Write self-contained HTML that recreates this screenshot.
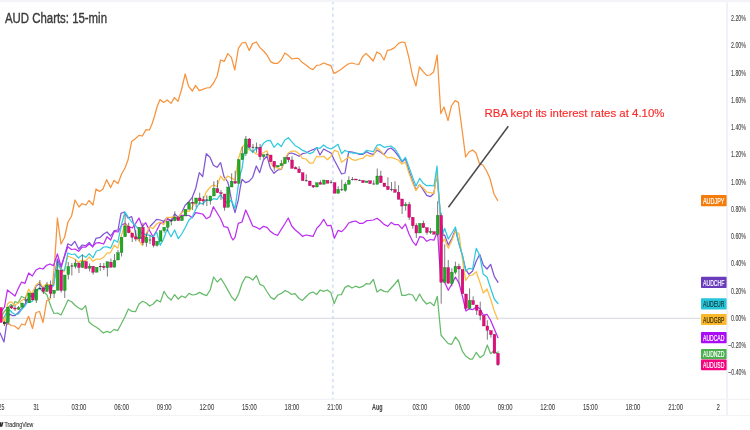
<!DOCTYPE html>
<html><head><meta charset="utf-8"><title>AUD Charts</title>
<style>
html,body{margin:0;padding:0;background:#fff;}
body{width:750px;height:430px;overflow:hidden;font-family:"Liberation Sans",sans-serif;}
svg{display:block;filter:blur(0.35px);}
text{font-family:"Liberation Sans",sans-serif;}
.ax{font-size:8.3px;fill:#444;stroke:#444;stroke-width:0.1px;}
.lb{font-size:8.8px;stroke-width:0.2px;}
</style></head><body>
<svg width="750" height="430" viewBox="0 0 750 430">
<rect x="0" y="0" width="750" height="430" fill="#ffffff"/>
<rect x="0" y="0" width="750" height="2.2" fill="#f2f4f7"/>

<line x1="727" y1="2" x2="727" y2="415.5" stroke="#eceff4" stroke-width="1.6"/>
<line x1="0" y1="399.4" x2="750" y2="399.4" stroke="#f1f3f6" stroke-width="1.2"/>
<line x1="0" y1="415.5" x2="750" y2="415.5" stroke="#f1f3f6" stroke-width="1.2"/>
<line x1="0" y1="318.2" x2="700.5" y2="318.2" stroke="#d4d5dc" stroke-width="1.1"/>
<line x1="332.9" y1="2" x2="332.9" y2="399" stroke="#c9d8f7" stroke-width="1.3" stroke-dasharray="3.2 3.1" stroke-dashoffset="1"/>
<polyline points="0.7,318.0 4.0,312.0 7.5,308.0 11.0,304.5 13.0,306.0 15.0,301.5 18.0,303.0 21.5,296.5 25.0,298.0 28.7,293.0 32.0,296.0 36.0,290.0 39.5,288.0 43.0,292.0 45.0,293.0 47.0,295.0 49.0,301.0 51.5,308.0 54.0,313.5 57.5,313.0 61.0,315.0 64.5,307.7 68.0,300.0 71.6,301.8 75.0,305.3 78.6,308.0 82.0,309.6 85.6,305.6 89.0,322.0 92.6,325.0 96.0,327.0 99.6,329.6 103.2,333.0 106.8,331.4 110.4,332.6 114.0,329.4 117.6,330.6 121.2,324.0 124.8,317.0 128.4,309.0 132.0,311.4 135.6,311.6 139.0,304.0 142.6,301.3 146.0,302.8 149.6,306.0 153.2,304.0 156.8,300.0 160.4,302.0 164.0,291.4 167.6,297.0 171.2,300.0 174.6,294.6 178.2,299.0 181.8,296.0 185.4,297.6 189.0,293.4 192.4,295.0 196.0,294.4 199.6,292.4 203.2,294.4 206.6,295.6 210.2,290.0 213.6,277.0 217.2,282.0 220.8,278.4 224.4,284.0 228.0,290.4 231.6,297.0 235.0,300.6 238.6,294.0 242.2,283.0 245.8,276.6 249.4,277.6 252.8,280.0 256.4,275.6 260.0,284.4 263.6,286.0 267.2,292.0 270.8,297.4 274.2,299.4 277.8,295.0 281.4,293.4 285.0,290.6 288.4,292.0 291.6,294.4 295.0,293.6 298.6,298.0 302.2,300.6 305.8,297.0 309.4,293.4 313.0,292.0 316.6,294.6 320.2,290.0 323.6,291.4 327.2,290.0 330.8,292.6 334.2,303.6 337.8,295.0 341.4,294.6 345.0,287.4 348.4,285.6 352.0,288.0 355.6,286.2 359.2,287.6 362.8,286.4 366.4,283.6 369.8,284.0 373.4,279.4 377.0,292.0 380.6,289.4 384.2,291.4 387.6,292.0 391.2,288.0 394.8,284.0 398.2,279.6 401.8,295.4 405.4,295.4 409.0,294.0 412.6,295.0 416.0,301.0 419.6,294.0 423.0,300.0 426.6,304.0 430.2,302.4 434.0,305.7 437.3,296.3 439.0,314.3 441.0,335.0 444.6,339.7 448.3,343.7 451.7,344.3 455.4,337.0 459.0,341.7 462.6,351.7 466.0,356.3 469.7,359.0 472.6,359.0 476.3,352.3 480.0,357.7 483.7,355.0 487.3,345.0 490.6,353.7 493.0,351.5 496.0,352.7 498.5,352.0" fill="none" stroke="#66bb6a" stroke-width="1.25" stroke-linejoin="round" stroke-linecap="round"/>
<polyline points="0.0,314.0 3.5,318.0 5.0,323.0 7.5,322.5 11.0,325.5 14.5,326.0 18.4,329.0 21.8,324.0 25.0,325.0 28.6,316.3 32.5,328.5 36.0,312.5 39.6,311.5 43.0,322.5 46.7,300.8 50.0,299.0 52.7,283.0 54.7,261.7 57.4,218.0 61.0,244.0 64.5,237.5 68.0,222.0 71.6,216.0 75.0,200.0 79.0,207.0 82.0,203.6 86.0,205.0 89.0,200.5 93.0,205.0 96.0,189.0 99.6,191.6 103.0,189.0 106.6,179.6 110.6,187.6 114.0,180.4 118.0,183.6 121.6,174.0 125.0,168.0 128.0,160.0 131.6,141.6 135.0,139.0 139.0,135.4 142.4,136.0 146.0,129.6 149.4,130.0 152.0,124.0 154.6,116.0 157.0,107.0 160.0,99.6 163.6,102.4 167.2,100.0 171.0,103.4 174.4,97.6 178.0,101.4 181.4,90.0 185.2,74.0 188.6,86.4 192.4,91.0 195.6,85.4 199.2,90.6 202.8,89.4 206.4,88.0 210.0,87.6 213.6,83.0 217.2,76.0 220.6,60.0 224.2,61.4 227.8,53.6 231.4,57.4 234.8,70.0 238.4,48.4 242.0,43.0 245.6,42.4 249.2,50.4 252.6,43.6 256.4,42.0 260.0,47.6 263.6,51.0 267.0,55.0 270.6,61.6 274.0,63.4 277.6,63.4 281.2,60.0 284.8,53.0 288.4,55.6 292.0,59.0 295.6,58.4 298.4,58.4 302.4,62.6 306.0,65.0 309.6,68.0 313.0,69.6 316.6,65.4 320.0,65.0 323.6,63.0 327.2,64.4 330.8,65.6 334.0,73.4 337.6,71.6 341.0,69.4 344.6,66.6 348.2,64.0 351.8,63.0 355.4,64.0 358.8,64.4 362.4,57.0 366.0,53.4 369.6,57.0 373.2,61.0 376.8,52.0 380.4,54.0 384.0,60.0 387.4,50.4 391.0,49.6 394.6,47.6 398.2,43.6 401.6,42.0 405.0,42.6 409.0,58.0 412.4,75.0 416.0,86.0 419.4,67.0 423.0,71.4 426.6,75.4 430.0,75.0 433.6,72.0 437.2,55.0 440.8,113.6 444.0,107.0 448.0,120.6 451.4,106.0 455.0,100.6 458.4,102.4 462.0,129.0 465.6,157.0 469.0,152.0 472.6,150.0 476.0,153.0 479.6,164.0 483.0,165.0 486.6,171.0 490.0,178.5 494.0,194.0 497.6,200.4" fill="none" stroke="#f7933c" stroke-width="1.25" stroke-linejoin="round" stroke-linecap="round"/>
<polyline points="0.0,333.0 4.0,342.0 6.0,328.0 7.5,318.0 9.7,314.0 12.0,315.5 15.0,315.5 18.5,312.5 21.5,309.0 24.5,305.0 27.0,300.0 30.0,296.0 33.0,297.0 36.0,286.0 39.5,284.0 43.0,288.0 46.5,286.0 50.0,287.0 53.5,285.0 57.3,259.0 61.0,268.3 64.7,255.0 67.8,243.8 71.3,245.5 74.8,241.3 78.6,249.0 82.2,245.0 85.8,245.6 89.2,242.4 92.7,247.0 96.0,238.3 100.3,237.3 103.7,234.0 107.0,232.0 110.7,236.0 114.3,230.7 118.0,230.0 121.0,213.3 124.3,212.0 128.0,218.0 131.7,216.7 134.3,226.7 136.3,237.3 139.0,238.7 142.3,237.3 145.7,236.7 149.7,226.7 153.0,223.3 156.6,219.3 160.3,220.0 163.7,221.3 167.0,218.0 171.0,220.7 174.6,214.0 178.3,217.3 181.7,212.7 185.0,205.5 189.0,201.5 192.3,197.3 195.7,188.5 199.3,172.7 202.7,176.7 206.3,153.7 210.0,157.3 213.4,165.3 217.0,167.3 220.6,162.7 224.0,176.7 227.7,182.0 229.0,186.7 231.7,201.3 235.0,212.7 238.3,200.0 240.3,187.3 242.0,179.3 245.7,182.7 249.0,181.3 252.7,177.3 256.3,166.0 259.7,172.7 263.4,160.0 267.0,156.0 270.3,168.0 274.0,173.3 277.7,170.0 281.3,169.5 284.7,161.0 288.3,153.7 291.7,153.0 295.3,154.3 299.0,156.3 302.4,153.7 306.0,153.0 309.6,151.0 313.0,149.7 316.7,147.7 320.0,155.0 323.7,149.0 327.3,151.0 331.0,153.0 334.4,160.3 338.0,167.0 341.6,174.0 345.0,173.0 348.7,151.7 352.3,152.0 355.7,153.0 359.3,154.3 363.0,154.3 366.7,151.7 370.0,153.7 373.3,154.3 377.0,150.2 380.3,152.0 384.0,154.7 387.7,149.3 391.0,148.0 394.7,151.3 398.3,156.0 402.0,162.0 405.4,158.7 409.0,170.7 412.6,181.3 416.0,190.0 419.7,184.7 423.3,190.0 426.7,195.3 430.3,196.7 433.8,193.5 436.9,174.0 439.0,198.5 440.5,216.0 443.0,235.3 444.6,235.0 448.3,245.0 452.0,238.3 455.4,229.7 459.0,243.7 462.6,256.3 465.7,269.7 469.0,274.3 472.6,271.0 476.3,261.0 479.7,254.3 483.3,265.0 487.0,269.0 490.6,264.3 494.3,276.3 498.0,282.3" fill="none" stroke="#8256d6" stroke-width="1.25" stroke-linejoin="round" stroke-linecap="round"/>
<polyline points="2.0,310.5 4.5,307.0 7.4,290.0 10.5,292.5 15.0,296.0 18.0,289.0 21.4,282.2 25.0,283.3 28.7,273.0 32.3,276.0 36.0,270.0 39.4,268.2 43.0,269.0 46.6,265.3 50.0,264.0 53.4,265.6 57.4,254.0 61.0,266.3 64.5,256.5 67.8,246.7 71.5,249.5 75.0,249.0 78.6,251.3 82.2,247.0 85.8,247.0 89.2,244.0 92.7,246.4 96.0,243.0 99.0,242.7 103.7,244.0 107.0,236.7 110.7,240.0 114.3,231.3 118.0,232.0 121.7,225.3 125.0,223.3 128.3,226.7 132.3,228.0 135.7,223.3 139.0,218.0 142.3,226.7 145.7,222.7 149.7,230.7 153.0,236.7 156.6,230.7 160.3,223.3 163.7,222.7 167.0,219.3 171.0,220.7 174.6,217.3 178.3,218.7 181.7,215.3 185.5,215.3 189.0,215.5 192.3,217.6 195.7,212.7 199.3,213.3 202.7,214.0 206.3,218.7 210.0,216.7 213.4,206.7 217.0,212.7 220.6,218.7 224.0,226.7 227.7,227.3 231.3,237.3 233.0,240.0 235.0,237.3 238.3,223.3 242.0,222.0 245.7,210.0 249.0,217.3 252.7,226.0 256.3,227.3 259.7,229.3 263.4,226.3 267.0,227.3 270.3,231.3 274.0,234.0 277.7,235.3 281.3,229.3 284.7,224.0 288.3,218.0 291.7,226.0 295.3,230.0 299.0,233.0 302.4,236.3 306.0,235.0 309.6,235.7 313.0,236.4 316.7,228.4 320.0,225.0 323.7,219.3 327.3,225.7 331.0,225.3 334.4,238.3 338.0,230.4 341.6,231.6 345.0,228.4 348.7,223.0 352.3,221.6 355.7,221.0 359.3,223.3 363.0,223.3 366.7,220.7 370.0,220.4 373.3,220.0 377.0,218.2 380.3,220.7 384.0,224.4 387.7,226.3 391.3,222.4 394.7,224.7 398.3,224.7 402.0,228.7 405.4,224.0 409.0,234.0 412.6,241.3 416.0,245.3 419.7,236.7 423.3,237.3 426.7,241.3 430.3,239.5 434.0,240.2 435.7,235.7 437.7,233.0 439.3,258.0 441.0,281.7 443.0,279.7 444.6,282.3 448.3,290.3 452.0,283.7 455.4,277.0 459.0,283.0 462.6,297.0 466.0,311.0 469.0,308.8 472.6,309.7 476.3,307.0 479.7,308.3 483.3,315.0 487.0,314.3 490.6,320.3 494.3,329.0 498.0,337.7" fill="none" stroke="#bd2df2" stroke-width="1.25" stroke-linejoin="round" stroke-linecap="round"/>
<polyline points="2.0,315.0 4.5,325.0 7.5,304.0 9.7,302.0 12.0,302.0 14.0,305.0 17.0,304.0 21.0,301.0 25.0,298.5 28.7,289.0 31.5,294.0 36.0,285.0 39.5,282.0 43.0,287.0 46.5,284.0 50.0,285.0 53.5,284.0 57.5,265.0 61.0,269.0 64.0,272.0 67.8,256.0 71.3,257.5 74.8,259.0 78.5,262.3 82.2,260.0 85.8,260.8 89.2,257.0 93.0,261.3 96.4,259.0 100.0,259.3 103.6,257.3 107.0,253.2 110.6,252.6 114.2,245.2 117.8,248.2 121.7,234.7 125.0,224.0 128.3,227.3 131.7,233.3 135.0,237.0 138.5,240.0 142.3,245.3 145.7,234.7 149.7,226.7 153.0,228.7 156.6,224.0 160.3,222.0 163.7,224.7 167.0,217.3 171.0,217.3 174.6,216.7 178.3,218.0 181.7,212.7 185.5,210.3 189.0,211.7 192.3,207.0 195.7,201.5 199.3,200.0 202.7,200.7 206.3,192.0 210.0,187.3 213.4,185.0 217.0,186.5 220.6,176.0 224.0,180.7 227.7,176.0 231.3,178.0 235.0,180.0 238.3,159.3 242.0,147.3 245.7,143.3 249.0,150.0 252.7,151.3 256.3,154.0 259.7,154.7 263.4,152.7 267.0,150.7 270.3,162.0 274.0,167.3 277.7,168.0 281.3,169.2 284.7,159.0 288.3,153.0 291.7,151.0 295.3,151.0 299.0,153.7 302.4,158.3 306.0,159.0 309.6,163.0 313.0,163.0 316.7,156.3 320.0,157.0 323.7,156.3 327.3,159.7 331.0,156.3 334.4,150.3 338.0,151.7 341.6,162.3 345.0,159.7 348.7,157.0 352.3,159.7 355.7,160.3 359.3,159.0 363.0,158.3 366.7,155.0 370.0,156.3 373.3,155.7 377.0,147.8 380.3,150.7 384.0,154.7 387.7,158.0 391.0,157.3 394.7,158.7 398.3,160.0 402.0,164.0 405.4,162.0 409.0,173.3 412.6,182.7 416.0,190.7 419.7,184.7 423.3,188.0 426.7,192.0 430.3,192.7 434.0,193.3 436.9,172.7 439.0,198.0 440.5,216.0 442.7,241.7 444.6,239.0 448.3,248.3 452.0,240.3 455.4,231.0 459.0,233.7 461.0,249.0 463.7,268.3 465.7,280.3 469.0,275.7 472.6,275.0 476.3,271.7 479.7,281.7 483.3,293.0 487.0,289.0 490.6,299.0 494.3,311.0 497.7,319.4" fill="none" stroke="#fbbe45" stroke-width="1.25" stroke-linejoin="round" stroke-linecap="round"/>
<polyline points="3.5,318.0 6.5,313.0 9.7,310.0 12.0,312.5 15.0,314.5 18.5,314.0 21.5,309.5 25.0,306.0 27.5,302.0 30.0,302.5 32.5,301.0 36.0,292.0 39.5,288.0 43.0,290.0 46.5,288.0 50.0,288.0 53.5,286.0 57.5,262.0 61.0,270.0 64.7,270.0 67.8,253.0 71.3,254.5 74.8,254.0 78.5,258.0 82.2,255.0 85.8,257.3 89.2,253.6 93.0,257.8 96.4,251.0 100.0,250.0 103.6,247.0 107.0,246.8 110.6,248.2 114.2,240.0 117.8,242.2 121.7,224.0 125.0,212.0 128.3,217.3 131.7,222.0 135.0,225.3 138.3,228.7 141.7,233.3 145.7,234.7 149.7,235.3 153.0,237.3 156.6,232.0 160.3,245.3 163.7,238.7 167.0,229.3 171.0,236.7 174.6,230.0 178.3,238.7 181.7,234.0 185.3,227.5 189.0,220.0 192.3,217.0 195.7,209.5 199.3,202.7 202.7,204.0 206.3,200.0 210.0,200.7 213.4,198.7 217.0,199.3 220.6,194.7 224.0,200.0 227.7,203.3 231.3,200.0 235.0,208.7 238.3,185.3 240.3,174.0 242.0,168.7 245.7,143.3 249.0,147.3 252.7,152.7 256.3,148.0 259.7,149.3 263.4,143.3 267.0,140.7 270.3,140.4 274.0,147.3 277.7,143.3 281.3,146.5 284.7,140.3 288.3,137.7 291.7,141.7 295.3,145.7 299.0,147.7 302.4,150.3 306.0,151.7 309.6,153.7 313.0,152.3 316.7,147.7 320.0,148.3 323.7,145.0 327.3,147.7 331.0,149.0 334.4,147.0 338.0,144.3 341.6,153.7 345.0,150.3 348.7,152.3 352.3,153.0 355.7,153.0 359.3,153.7 363.0,153.7 366.7,150.3 370.0,151.0 373.3,151.7 377.0,145.2 380.3,144.7 384.0,147.3 387.7,146.7 391.0,146.0 394.7,148.7 398.3,154.0 402.0,161.3 405.4,157.3 409.0,167.3 412.6,177.3 416.0,186.0 419.7,178.4 423.3,183.3 426.7,185.7 430.3,185.3 434.0,186.0 437.0,166.0 439.0,197.0 440.5,215.0 442.7,233.7 444.6,228.3 448.3,239.0 452.0,233.0 455.4,227.0 459.0,243.7 462.6,255.7 465.7,271.0 469.0,268.3 472.6,269.0 475.0,255.0 476.3,248.3 479.7,255.7 483.3,274.3 487.0,277.0 490.6,288.3 494.3,299.0 498.0,303.7" fill="none" stroke="#30c9dd" stroke-width="1.25" stroke-linejoin="round" stroke-linecap="round"/>
<rect x="-0.52" y="307.5" width="2.7" height="15.0" fill="#ea0a7c" stroke="#8a0a4c" stroke-width="0.35"/>
<line x1="4.38" y1="321.0" x2="4.38" y2="326.0" stroke="#5a5a5a" stroke-width="0.8"/>
<rect x="3.03" y="322.0" width="2.7" height="2.0" fill="#3a3a3a"/>
<line x1="7.93" y1="307.2" x2="7.93" y2="325.0" stroke="#5a5a5a" stroke-width="0.8"/>
<rect x="6.58" y="307.2" width="2.7" height="15.3" fill="#1fab22" stroke="#0f6f14" stroke-width="0.35"/>
<line x1="11.48" y1="305.0" x2="11.48" y2="309.0" stroke="#5a5a5a" stroke-width="0.8"/>
<rect x="10.13" y="306.5" width="2.7" height="1.5" fill="#ea0a7c" stroke="#8a0a4c" stroke-width="0.35"/>
<line x1="15.03" y1="305.0" x2="15.03" y2="311.0" stroke="#5a5a5a" stroke-width="0.8"/>
<rect x="13.68" y="308.0" width="2.7" height="1.0" fill="#ea0a7c" stroke="#8a0a4c" stroke-width="0.35"/>
<line x1="18.59" y1="306.0" x2="18.59" y2="310.0" stroke="#5a5a5a" stroke-width="0.8"/>
<rect x="17.24" y="307.8" width="2.7" height="1.4" fill="#1fab22" stroke="#0f6f14" stroke-width="0.35"/>
<rect x="20.79" y="303.0" width="2.7" height="4.2" fill="#1fab22" stroke="#0f6f14" stroke-width="0.35"/>
<line x1="25.69" y1="297.0" x2="25.69" y2="303.0" stroke="#5a5a5a" stroke-width="0.8"/>
<rect x="24.34" y="299.5" width="2.7" height="1.0" fill="#3a3a3a"/>
<rect x="27.89" y="293.0" width="2.7" height="9.8" fill="#1fab22" stroke="#0f6f14" stroke-width="0.35"/>
<rect x="31.44" y="293.2" width="2.7" height="6.8" fill="#ea0a7c" stroke="#8a0a4c" stroke-width="0.35"/>
<line x1="36.34" y1="289.3" x2="36.34" y2="303.0" stroke="#5a5a5a" stroke-width="0.8"/>
<rect x="34.99" y="289.3" width="2.7" height="10.9" fill="#1fab22" stroke="#0f6f14" stroke-width="0.35"/>
<line x1="39.89" y1="280.0" x2="39.89" y2="289.5" stroke="#5a5a5a" stroke-width="0.8"/>
<rect x="38.54" y="288.0" width="2.7" height="1.0" fill="#3a3a3a"/>
<line x1="43.44" y1="288.0" x2="43.44" y2="294.0" stroke="#5a5a5a" stroke-width="0.8"/>
<rect x="42.09" y="288.0" width="2.7" height="3.6" fill="#ea0a7c" stroke="#8a0a4c" stroke-width="0.35"/>
<line x1="47.00" y1="282.0" x2="47.00" y2="291.5" stroke="#5a5a5a" stroke-width="0.8"/>
<rect x="45.65" y="285.0" width="2.7" height="6.5" fill="#1fab22" stroke="#0f6f14" stroke-width="0.35"/>
<line x1="50.55" y1="280.5" x2="50.55" y2="298.0" stroke="#5a5a5a" stroke-width="0.8"/>
<rect x="49.20" y="285.0" width="2.7" height="8.5" fill="#ea0a7c" stroke="#8a0a4c" stroke-width="0.35"/>
<line x1="54.10" y1="290.2" x2="54.10" y2="298.0" stroke="#5a5a5a" stroke-width="0.8"/>
<rect x="52.75" y="290.2" width="2.7" height="3.3" fill="#1fab22" stroke="#0f6f14" stroke-width="0.35"/>
<line x1="57.65" y1="261.0" x2="57.65" y2="290.2" stroke="#5a5a5a" stroke-width="0.8"/>
<rect x="56.30" y="270.0" width="2.7" height="20.2" fill="#1fab22" stroke="#0f6f14" stroke-width="0.35"/>
<line x1="61.20" y1="270.0" x2="61.20" y2="292.5" stroke="#5a5a5a" stroke-width="0.8"/>
<rect x="59.85" y="270.0" width="2.7" height="20.5" fill="#ea0a7c" stroke="#8a0a4c" stroke-width="0.35"/>
<line x1="64.75" y1="275.0" x2="64.75" y2="298.0" stroke="#5a5a5a" stroke-width="0.8"/>
<rect x="63.40" y="275.0" width="2.7" height="15.5" fill="#1fab22" stroke="#0f6f14" stroke-width="0.35"/>
<line x1="68.30" y1="262.0" x2="68.30" y2="279.5" stroke="#5a5a5a" stroke-width="0.8"/>
<rect x="66.95" y="266.5" width="2.7" height="8.0" fill="#1fab22" stroke="#0f6f14" stroke-width="0.35"/>
<line x1="71.85" y1="263.0" x2="71.85" y2="275.5" stroke="#5a5a5a" stroke-width="0.8"/>
<rect x="70.50" y="265.5" width="2.7" height="1.0" fill="#3a3a3a"/>
<line x1="75.41" y1="259.5" x2="75.41" y2="268.5" stroke="#5a5a5a" stroke-width="0.8"/>
<rect x="74.06" y="263.0" width="2.7" height="3.5" fill="#1fab22" stroke="#0f6f14" stroke-width="0.35"/>
<line x1="78.96" y1="263.0" x2="78.96" y2="273.0" stroke="#5a5a5a" stroke-width="0.8"/>
<rect x="77.61" y="263.0" width="2.7" height="4.5" fill="#ea0a7c" stroke="#8a0a4c" stroke-width="0.35"/>
<line x1="82.51" y1="254.5" x2="82.51" y2="267.5" stroke="#5a5a5a" stroke-width="0.8"/>
<rect x="81.16" y="261.5" width="2.7" height="6.0" fill="#1fab22" stroke="#0f6f14" stroke-width="0.35"/>
<rect x="84.71" y="261.5" width="2.7" height="7.0" fill="#ea0a7c" stroke="#8a0a4c" stroke-width="0.35"/>
<line x1="89.61" y1="263.5" x2="89.61" y2="271.5" stroke="#5a5a5a" stroke-width="0.8"/>
<rect x="88.26" y="266.2" width="2.7" height="2.0" fill="#1fab22" stroke="#0f6f14" stroke-width="0.35"/>
<line x1="93.16" y1="266.2" x2="93.16" y2="274.5" stroke="#5a5a5a" stroke-width="0.8"/>
<rect x="91.81" y="266.2" width="2.7" height="6.0" fill="#ea0a7c" stroke="#8a0a4c" stroke-width="0.35"/>
<rect x="95.36" y="267.2" width="2.7" height="5.0" fill="#1fab22" stroke="#0f6f14" stroke-width="0.35"/>
<line x1="100.26" y1="263.0" x2="100.26" y2="271.0" stroke="#5a5a5a" stroke-width="0.8"/>
<rect x="98.91" y="266.0" width="2.7" height="1.0" fill="#3a3a3a"/>
<line x1="103.81" y1="263.0" x2="103.81" y2="270.0" stroke="#5a5a5a" stroke-width="0.8"/>
<rect x="102.46" y="266.2" width="2.7" height="1.3" fill="#ea0a7c" stroke="#8a0a4c" stroke-width="0.35"/>
<line x1="107.37" y1="261.8" x2="107.37" y2="276.5" stroke="#5a5a5a" stroke-width="0.8"/>
<rect x="106.02" y="261.8" width="2.7" height="6.0" fill="#1fab22" stroke="#0f6f14" stroke-width="0.35"/>
<line x1="110.92" y1="258.5" x2="110.92" y2="267.2" stroke="#5a5a5a" stroke-width="0.8"/>
<rect x="109.57" y="262.2" width="2.7" height="5.0" fill="#ea0a7c" stroke="#8a0a4c" stroke-width="0.35"/>
<line x1="114.47" y1="254.0" x2="114.47" y2="267.2" stroke="#5a5a5a" stroke-width="0.8"/>
<rect x="113.12" y="260.5" width="2.7" height="6.7" fill="#1fab22" stroke="#0f6f14" stroke-width="0.35"/>
<line x1="118.02" y1="250.0" x2="118.02" y2="260.0" stroke="#5a5a5a" stroke-width="0.8"/>
<rect x="116.67" y="252.8" width="2.7" height="7.2" fill="#1fab22" stroke="#0f6f14" stroke-width="0.35"/>
<line x1="121.57" y1="237.3" x2="121.57" y2="256.5" stroke="#5a5a5a" stroke-width="0.8"/>
<rect x="120.22" y="237.3" width="2.7" height="15.2" fill="#1fab22" stroke="#0f6f14" stroke-width="0.35"/>
<line x1="125.12" y1="214.7" x2="125.12" y2="236.7" stroke="#5a5a5a" stroke-width="0.8"/>
<rect x="123.77" y="226.0" width="2.7" height="10.7" fill="#1fab22" stroke="#0f6f14" stroke-width="0.35"/>
<line x1="128.67" y1="222.7" x2="128.67" y2="233.3" stroke="#5a5a5a" stroke-width="0.8"/>
<rect x="127.32" y="226.7" width="2.7" height="6.0" fill="#ea0a7c" stroke="#8a0a4c" stroke-width="0.35"/>
<line x1="132.22" y1="233.0" x2="132.22" y2="242.0" stroke="#5a5a5a" stroke-width="0.8"/>
<rect x="130.87" y="233.0" width="2.7" height="4.3" fill="#ea0a7c" stroke="#8a0a4c" stroke-width="0.35"/>
<line x1="135.78" y1="230.0" x2="135.78" y2="241.3" stroke="#5a5a5a" stroke-width="0.8"/>
<rect x="134.43" y="237.0" width="2.7" height="2.0" fill="#ea0a7c" stroke="#8a0a4c" stroke-width="0.35"/>
<line x1="139.33" y1="227.3" x2="139.33" y2="241.3" stroke="#5a5a5a" stroke-width="0.8"/>
<rect x="137.98" y="227.3" width="2.7" height="11.4" fill="#1fab22" stroke="#0f6f14" stroke-width="0.35"/>
<line x1="142.88" y1="222.7" x2="142.88" y2="245.3" stroke="#5a5a5a" stroke-width="0.8"/>
<rect x="141.53" y="227.3" width="2.7" height="15.4" fill="#ea0a7c" stroke="#8a0a4c" stroke-width="0.35"/>
<line x1="146.43" y1="233.3" x2="146.43" y2="246.7" stroke="#5a5a5a" stroke-width="0.8"/>
<rect x="145.08" y="237.3" width="2.7" height="5.4" fill="#1fab22" stroke="#0f6f14" stroke-width="0.35"/>
<line x1="149.98" y1="234.7" x2="149.98" y2="244.0" stroke="#5a5a5a" stroke-width="0.8"/>
<rect x="148.63" y="239.6" width="2.7" height="0.8" fill="#3a3a3a"/>
<line x1="153.53" y1="237.3" x2="153.53" y2="247.3" stroke="#5a5a5a" stroke-width="0.8"/>
<rect x="152.18" y="237.3" width="2.7" height="8.0" fill="#ea0a7c" stroke="#8a0a4c" stroke-width="0.35"/>
<line x1="157.08" y1="241.3" x2="157.08" y2="246.5" stroke="#5a5a5a" stroke-width="0.8"/>
<rect x="155.73" y="241.3" width="2.7" height="4.0" fill="#1fab22" stroke="#0f6f14" stroke-width="0.35"/>
<rect x="159.28" y="230.7" width="2.7" height="10.6" fill="#1fab22" stroke="#0f6f14" stroke-width="0.35"/>
<line x1="164.19" y1="227.3" x2="164.19" y2="232.7" stroke="#5a5a5a" stroke-width="0.8"/>
<rect x="162.84" y="227.3" width="2.7" height="3.4" fill="#1fab22" stroke="#0f6f14" stroke-width="0.35"/>
<line x1="167.74" y1="221.3" x2="167.74" y2="231.3" stroke="#5a5a5a" stroke-width="0.8"/>
<rect x="166.39" y="221.3" width="2.7" height="6.0" fill="#1fab22" stroke="#0f6f14" stroke-width="0.35"/>
<line x1="171.29" y1="218.7" x2="171.29" y2="225.3" stroke="#5a5a5a" stroke-width="0.8"/>
<rect x="169.94" y="220.0" width="2.7" height="1.3" fill="#3a3a3a"/>
<line x1="174.84" y1="211.3" x2="174.84" y2="221.3" stroke="#5a5a5a" stroke-width="0.8"/>
<rect x="173.49" y="217.3" width="2.7" height="3.4" fill="#1fab22" stroke="#0f6f14" stroke-width="0.35"/>
<rect x="177.04" y="217.3" width="2.7" height="3.4" fill="#ea0a7c" stroke="#8a0a4c" stroke-width="0.35"/>
<rect x="180.59" y="216.0" width="2.7" height="4.7" fill="#1fab22" stroke="#0f6f14" stroke-width="0.35"/>
<rect x="184.14" y="209.3" width="2.7" height="6.7" fill="#1fab22" stroke="#0f6f14" stroke-width="0.35"/>
<rect x="187.69" y="202.3" width="2.7" height="7.0" fill="#1fab22" stroke="#0f6f14" stroke-width="0.35"/>
<line x1="192.59" y1="197.3" x2="192.59" y2="210.0" stroke="#5a5a5a" stroke-width="0.8"/>
<rect x="191.24" y="202.3" width="2.7" height="1.0" fill="#ea0a7c" stroke="#8a0a4c" stroke-width="0.35"/>
<line x1="196.15" y1="198.0" x2="196.15" y2="207.3" stroke="#5a5a5a" stroke-width="0.8"/>
<rect x="194.80" y="198.0" width="2.7" height="5.3" fill="#1fab22" stroke="#0f6f14" stroke-width="0.35"/>
<line x1="199.70" y1="192.7" x2="199.70" y2="204.7" stroke="#5a5a5a" stroke-width="0.8"/>
<rect x="198.35" y="198.0" width="2.7" height="2.7" fill="#ea0a7c" stroke="#8a0a4c" stroke-width="0.35"/>
<line x1="203.25" y1="196.0" x2="203.25" y2="205.3" stroke="#5a5a5a" stroke-width="0.8"/>
<rect x="201.90" y="199.7" width="2.7" height="1.3" fill="#ea0a7c" stroke="#8a0a4c" stroke-width="0.35"/>
<line x1="206.80" y1="195.3" x2="206.80" y2="206.0" stroke="#5a5a5a" stroke-width="0.8"/>
<rect x="205.45" y="199.6" width="2.7" height="0.8" fill="#3a3a3a"/>
<line x1="210.35" y1="196.0" x2="210.35" y2="204.7" stroke="#5a5a5a" stroke-width="0.8"/>
<rect x="209.00" y="196.0" width="2.7" height="4.7" fill="#1fab22" stroke="#0f6f14" stroke-width="0.35"/>
<line x1="213.90" y1="181.3" x2="213.90" y2="196.0" stroke="#5a5a5a" stroke-width="0.8"/>
<rect x="212.55" y="188.3" width="2.7" height="7.7" fill="#1fab22" stroke="#0f6f14" stroke-width="0.35"/>
<line x1="217.45" y1="180.0" x2="217.45" y2="192.7" stroke="#5a5a5a" stroke-width="0.8"/>
<rect x="216.10" y="188.7" width="2.7" height="4.0" fill="#ea0a7c" stroke="#8a0a4c" stroke-width="0.35"/>
<line x1="221.00" y1="190.0" x2="221.00" y2="200.0" stroke="#5a5a5a" stroke-width="0.8"/>
<rect x="219.65" y="192.7" width="2.7" height="1.0" fill="#ea0a7c" stroke="#8a0a4c" stroke-width="0.35"/>
<line x1="224.56" y1="194.0" x2="224.56" y2="210.7" stroke="#5a5a5a" stroke-width="0.8"/>
<rect x="223.21" y="194.0" width="2.7" height="13.3" fill="#ea0a7c" stroke="#8a0a4c" stroke-width="0.35"/>
<rect x="226.76" y="187.0" width="2.7" height="20.3" fill="#1fab22" stroke="#0f6f14" stroke-width="0.35"/>
<line x1="231.66" y1="173.3" x2="231.66" y2="187.0" stroke="#5a5a5a" stroke-width="0.8"/>
<rect x="230.31" y="181.3" width="2.7" height="5.7" fill="#1fab22" stroke="#0f6f14" stroke-width="0.35"/>
<line x1="235.21" y1="170.7" x2="235.21" y2="183.3" stroke="#5a5a5a" stroke-width="0.8"/>
<rect x="233.86" y="181.3" width="2.7" height="2.0" fill="#ea0a7c" stroke="#8a0a4c" stroke-width="0.35"/>
<rect x="237.41" y="159.6" width="2.7" height="23.7" fill="#1fab22" stroke="#0f6f14" stroke-width="0.35"/>
<line x1="242.31" y1="146.7" x2="242.31" y2="159.6" stroke="#5a5a5a" stroke-width="0.8"/>
<rect x="240.96" y="153.7" width="2.7" height="5.9" fill="#1fab22" stroke="#0f6f14" stroke-width="0.35"/>
<line x1="245.86" y1="136.0" x2="245.86" y2="156.0" stroke="#5a5a5a" stroke-width="0.8"/>
<rect x="244.51" y="139.0" width="2.7" height="14.7" fill="#1fab22" stroke="#0f6f14" stroke-width="0.35"/>
<line x1="249.41" y1="138.0" x2="249.41" y2="147.3" stroke="#5a5a5a" stroke-width="0.8"/>
<rect x="248.06" y="139.0" width="2.7" height="8.3" fill="#ea0a7c" stroke="#8a0a4c" stroke-width="0.35"/>
<line x1="252.97" y1="144.0" x2="252.97" y2="152.0" stroke="#5a5a5a" stroke-width="0.8"/>
<rect x="251.62" y="146.9" width="2.7" height="0.8" fill="#3a3a3a"/>
<line x1="256.52" y1="142.7" x2="256.52" y2="152.7" stroke="#5a5a5a" stroke-width="0.8"/>
<rect x="255.17" y="146.9" width="2.7" height="0.8" fill="#3a3a3a"/>
<line x1="260.07" y1="144.0" x2="260.07" y2="160.0" stroke="#5a5a5a" stroke-width="0.8"/>
<rect x="258.72" y="147.3" width="2.7" height="9.4" fill="#ea0a7c" stroke="#8a0a4c" stroke-width="0.35"/>
<line x1="263.62" y1="154.7" x2="263.62" y2="158.7" stroke="#5a5a5a" stroke-width="0.8"/>
<rect x="262.27" y="154.7" width="2.7" height="2.0" fill="#1fab22" stroke="#0f6f14" stroke-width="0.35"/>
<line x1="267.17" y1="153.3" x2="267.17" y2="156.0" stroke="#5a5a5a" stroke-width="0.8"/>
<rect x="265.82" y="154.3" width="2.7" height="0.8" fill="#3a3a3a"/>
<rect x="269.37" y="155.0" width="2.7" height="6.7" fill="#ea0a7c" stroke="#8a0a4c" stroke-width="0.35"/>
<line x1="274.27" y1="161.3" x2="274.27" y2="170.7" stroke="#5a5a5a" stroke-width="0.8"/>
<rect x="272.92" y="161.3" width="2.7" height="5.4" fill="#ea0a7c" stroke="#8a0a4c" stroke-width="0.35"/>
<rect x="276.47" y="165.3" width="2.7" height="1.7" fill="#1fab22" stroke="#0f6f14" stroke-width="0.35"/>
<line x1="281.37" y1="160.0" x2="281.37" y2="165.7" stroke="#5a5a5a" stroke-width="0.8"/>
<rect x="280.02" y="163.7" width="2.7" height="2.0" fill="#1fab22" stroke="#0f6f14" stroke-width="0.35"/>
<rect x="283.58" y="157.4" width="2.7" height="6.3" fill="#1fab22" stroke="#0f6f14" stroke-width="0.35"/>
<line x1="288.48" y1="157.4" x2="288.48" y2="162.3" stroke="#5a5a5a" stroke-width="0.8"/>
<rect x="287.13" y="157.4" width="2.7" height="2.3" fill="#ea0a7c" stroke="#8a0a4c" stroke-width="0.35"/>
<line x1="292.03" y1="156.3" x2="292.03" y2="168.3" stroke="#5a5a5a" stroke-width="0.8"/>
<rect x="290.68" y="160.0" width="2.7" height="8.3" fill="#ea0a7c" stroke="#8a0a4c" stroke-width="0.35"/>
<line x1="295.58" y1="166.3" x2="295.58" y2="169.0" stroke="#5a5a5a" stroke-width="0.8"/>
<rect x="294.23" y="167.7" width="2.7" height="1.3" fill="#ea0a7c" stroke="#8a0a4c" stroke-width="0.35"/>
<line x1="299.13" y1="166.3" x2="299.13" y2="172.7" stroke="#5a5a5a" stroke-width="0.8"/>
<rect x="297.78" y="169.0" width="2.7" height="3.7" fill="#ea0a7c" stroke="#8a0a4c" stroke-width="0.35"/>
<rect x="301.33" y="172.7" width="2.7" height="8.0" fill="#ea0a7c" stroke="#8a0a4c" stroke-width="0.35"/>
<line x1="306.23" y1="174.3" x2="306.23" y2="181.7" stroke="#5a5a5a" stroke-width="0.8"/>
<rect x="304.88" y="180.3" width="2.7" height="0.8" fill="#3a3a3a"/>
<rect x="308.43" y="181.0" width="2.7" height="4.7" fill="#ea0a7c" stroke="#8a0a4c" stroke-width="0.35"/>
<line x1="313.34" y1="185.4" x2="313.34" y2="188.0" stroke="#5a5a5a" stroke-width="0.8"/>
<rect x="311.99" y="185.4" width="2.7" height="1.6" fill="#ea0a7c" stroke="#8a0a4c" stroke-width="0.35"/>
<rect x="315.54" y="182.7" width="2.7" height="4.3" fill="#1fab22" stroke="#0f6f14" stroke-width="0.35"/>
<line x1="320.44" y1="180.3" x2="320.44" y2="184.3" stroke="#5a5a5a" stroke-width="0.8"/>
<rect x="319.09" y="182.7" width="2.7" height="1.6" fill="#ea0a7c" stroke="#8a0a4c" stroke-width="0.35"/>
<rect x="322.64" y="180.0" width="2.7" height="4.3" fill="#1fab22" stroke="#0f6f14" stroke-width="0.35"/>
<rect x="326.19" y="180.3" width="2.7" height="3.0" fill="#ea0a7c" stroke="#8a0a4c" stroke-width="0.35"/>
<line x1="331.09" y1="180.0" x2="331.09" y2="183.7" stroke="#5a5a5a" stroke-width="0.8"/>
<rect x="329.74" y="181.9" width="2.7" height="0.8" fill="#3a3a3a"/>
<rect x="333.29" y="182.6" width="2.7" height="10.7" fill="#ea0a7c" stroke="#8a0a4c" stroke-width="0.35"/>
<line x1="338.19" y1="186.3" x2="338.19" y2="193.3" stroke="#5a5a5a" stroke-width="0.8"/>
<rect x="336.84" y="189.4" width="2.7" height="3.9" fill="#1fab22" stroke="#0f6f14" stroke-width="0.35"/>
<line x1="341.75" y1="179.7" x2="341.75" y2="191.0" stroke="#5a5a5a" stroke-width="0.8"/>
<rect x="340.40" y="189.3" width="2.7" height="0.8" fill="#3a3a3a"/>
<line x1="345.30" y1="182.3" x2="345.30" y2="191.7" stroke="#5a5a5a" stroke-width="0.8"/>
<rect x="343.95" y="184.3" width="2.7" height="6.0" fill="#1fab22" stroke="#0f6f14" stroke-width="0.35"/>
<line x1="348.85" y1="176.3" x2="348.85" y2="184.3" stroke="#5a5a5a" stroke-width="0.8"/>
<rect x="347.50" y="180.3" width="2.7" height="4.0" fill="#1fab22" stroke="#0f6f14" stroke-width="0.35"/>
<line x1="352.40" y1="177.0" x2="352.40" y2="180.3" stroke="#5a5a5a" stroke-width="0.8"/>
<rect x="351.05" y="179.0" width="2.7" height="0.8" fill="#3a3a3a"/>
<rect x="354.60" y="179.0" width="2.7" height="1.0" fill="#ea0a7c" stroke="#8a0a4c" stroke-width="0.35"/>
<line x1="359.50" y1="179.5" x2="359.50" y2="181.0" stroke="#5a5a5a" stroke-width="0.8"/>
<rect x="358.15" y="179.9" width="2.7" height="0.8" fill="#3a3a3a"/>
<rect x="361.70" y="180.3" width="2.7" height="2.4" fill="#ea0a7c" stroke="#8a0a4c" stroke-width="0.35"/>
<rect x="365.25" y="181.0" width="2.7" height="1.6" fill="#1fab22" stroke="#0f6f14" stroke-width="0.35"/>
<rect x="368.80" y="180.7" width="2.7" height="3.0" fill="#ea0a7c" stroke="#8a0a4c" stroke-width="0.35"/>
<line x1="373.71" y1="180.3" x2="373.71" y2="184.6" stroke="#5a5a5a" stroke-width="0.8"/>
<rect x="372.36" y="183.6" width="2.7" height="0.8" fill="#3a3a3a"/>
<line x1="377.26" y1="168.5" x2="377.26" y2="184.3" stroke="#5a5a5a" stroke-width="0.8"/>
<rect x="375.91" y="176.0" width="2.7" height="8.3" fill="#1fab22" stroke="#0f6f14" stroke-width="0.35"/>
<line x1="380.81" y1="170.7" x2="380.81" y2="182.7" stroke="#5a5a5a" stroke-width="0.8"/>
<rect x="379.46" y="176.0" width="2.7" height="6.7" fill="#ea0a7c" stroke="#8a0a4c" stroke-width="0.35"/>
<rect x="383.01" y="183.0" width="2.7" height="3.7" fill="#ea0a7c" stroke="#8a0a4c" stroke-width="0.35"/>
<line x1="387.91" y1="177.3" x2="387.91" y2="189.6" stroke="#5a5a5a" stroke-width="0.8"/>
<rect x="386.56" y="186.4" width="2.7" height="3.2" fill="#ea0a7c" stroke="#8a0a4c" stroke-width="0.35"/>
<line x1="391.46" y1="182.0" x2="391.46" y2="191.3" stroke="#5a5a5a" stroke-width="0.8"/>
<rect x="390.11" y="189.2" width="2.7" height="0.8" fill="#3a3a3a"/>
<line x1="395.01" y1="181.3" x2="395.01" y2="192.3" stroke="#5a5a5a" stroke-width="0.8"/>
<rect x="393.66" y="189.6" width="2.7" height="2.7" fill="#ea0a7c" stroke="#8a0a4c" stroke-width="0.35"/>
<line x1="398.56" y1="185.3" x2="398.56" y2="199.3" stroke="#5a5a5a" stroke-width="0.8"/>
<rect x="397.21" y="192.3" width="2.7" height="7.0" fill="#ea0a7c" stroke="#8a0a4c" stroke-width="0.35"/>
<line x1="402.12" y1="199.0" x2="402.12" y2="214.0" stroke="#5a5a5a" stroke-width="0.8"/>
<rect x="400.77" y="199.0" width="2.7" height="7.0" fill="#ea0a7c" stroke="#8a0a4c" stroke-width="0.35"/>
<line x1="405.67" y1="202.0" x2="405.67" y2="210.7" stroke="#5a5a5a" stroke-width="0.8"/>
<rect x="404.32" y="204.4" width="2.7" height="1.3" fill="#1fab22" stroke="#0f6f14" stroke-width="0.35"/>
<line x1="409.22" y1="202.0" x2="409.22" y2="220.0" stroke="#5a5a5a" stroke-width="0.8"/>
<rect x="407.87" y="204.4" width="2.7" height="12.9" fill="#ea0a7c" stroke="#8a0a4c" stroke-width="0.35"/>
<line x1="412.77" y1="217.3" x2="412.77" y2="228.7" stroke="#5a5a5a" stroke-width="0.8"/>
<rect x="411.42" y="217.3" width="2.7" height="8.4" fill="#ea0a7c" stroke="#8a0a4c" stroke-width="0.35"/>
<line x1="416.32" y1="223.3" x2="416.32" y2="238.0" stroke="#5a5a5a" stroke-width="0.8"/>
<rect x="414.97" y="225.3" width="2.7" height="7.7" fill="#ea0a7c" stroke="#8a0a4c" stroke-width="0.35"/>
<rect x="418.52" y="223.3" width="2.7" height="9.7" fill="#1fab22" stroke="#0f6f14" stroke-width="0.35"/>
<line x1="423.42" y1="220.7" x2="423.42" y2="227.7" stroke="#5a5a5a" stroke-width="0.8"/>
<rect x="422.07" y="223.3" width="2.7" height="4.4" fill="#ea0a7c" stroke="#8a0a4c" stroke-width="0.35"/>
<line x1="426.97" y1="227.7" x2="426.97" y2="234.7" stroke="#5a5a5a" stroke-width="0.8"/>
<rect x="425.62" y="227.7" width="2.7" height="4.7" fill="#ea0a7c" stroke="#8a0a4c" stroke-width="0.35"/>
<line x1="430.53" y1="228.0" x2="430.53" y2="234.0" stroke="#5a5a5a" stroke-width="0.8"/>
<rect x="429.18" y="231.6" width="2.7" height="0.8" fill="#1fab22" stroke="#0f6f14" stroke-width="0.35"/>
<rect x="432.73" y="231.6" width="2.7" height="2.7" fill="#ea0a7c" stroke="#8a0a4c" stroke-width="0.35"/>
<line x1="437.63" y1="201.3" x2="437.63" y2="236.7" stroke="#5a5a5a" stroke-width="0.8"/>
<rect x="436.28" y="215.5" width="2.7" height="18.8" fill="#1fab22" stroke="#0f6f14" stroke-width="0.35"/>
<line x1="441.18" y1="212.7" x2="441.18" y2="303.7" stroke="#5a5a5a" stroke-width="0.8"/>
<rect x="439.83" y="215.5" width="2.7" height="66.8" fill="#ea0a7c" stroke="#8a0a4c" stroke-width="0.35"/>
<line x1="444.73" y1="244.3" x2="444.73" y2="282.3" stroke="#5a5a5a" stroke-width="0.8"/>
<rect x="443.38" y="267.7" width="2.7" height="14.6" fill="#1fab22" stroke="#0f6f14" stroke-width="0.35"/>
<line x1="448.28" y1="260.0" x2="448.28" y2="283.3" stroke="#5a5a5a" stroke-width="0.8"/>
<rect x="446.93" y="267.7" width="2.7" height="15.6" fill="#ea0a7c" stroke="#8a0a4c" stroke-width="0.35"/>
<line x1="451.83" y1="268.3" x2="451.83" y2="286.3" stroke="#5a5a5a" stroke-width="0.8"/>
<rect x="450.48" y="272.3" width="2.7" height="11.0" fill="#1fab22" stroke="#0f6f14" stroke-width="0.35"/>
<line x1="455.38" y1="261.7" x2="455.38" y2="274.3" stroke="#5a5a5a" stroke-width="0.8"/>
<rect x="454.03" y="266.3" width="2.7" height="6.0" fill="#1fab22" stroke="#0f6f14" stroke-width="0.35"/>
<line x1="458.93" y1="263.7" x2="458.93" y2="283.7" stroke="#5a5a5a" stroke-width="0.8"/>
<rect x="457.58" y="266.3" width="2.7" height="2.7" fill="#ea0a7c" stroke="#8a0a4c" stroke-width="0.35"/>
<rect x="461.14" y="269.4" width="2.7" height="24.3" fill="#ea0a7c" stroke="#8a0a4c" stroke-width="0.35"/>
<rect x="464.69" y="294.0" width="2.7" height="14.3" fill="#ea0a7c" stroke="#8a0a4c" stroke-width="0.35"/>
<line x1="469.59" y1="288.3" x2="469.59" y2="308.3" stroke="#5a5a5a" stroke-width="0.8"/>
<rect x="468.24" y="300.6" width="2.7" height="7.7" fill="#1fab22" stroke="#0f6f14" stroke-width="0.35"/>
<line x1="473.14" y1="296.3" x2="473.14" y2="304.6" stroke="#5a5a5a" stroke-width="0.8"/>
<rect x="471.79" y="300.6" width="2.7" height="4.0" fill="#ea0a7c" stroke="#8a0a4c" stroke-width="0.35"/>
<line x1="476.69" y1="305.0" x2="476.69" y2="315.0" stroke="#5a5a5a" stroke-width="0.8"/>
<rect x="475.34" y="305.0" width="2.7" height="5.3" fill="#ea0a7c" stroke="#8a0a4c" stroke-width="0.35"/>
<line x1="480.24" y1="301.7" x2="480.24" y2="320.3" stroke="#5a5a5a" stroke-width="0.8"/>
<rect x="478.89" y="310.3" width="2.7" height="5.1" fill="#ea0a7c" stroke="#8a0a4c" stroke-width="0.35"/>
<rect x="482.44" y="315.4" width="2.7" height="10.6" fill="#ea0a7c" stroke="#8a0a4c" stroke-width="0.35"/>
<line x1="487.34" y1="320.3" x2="487.34" y2="339.7" stroke="#5a5a5a" stroke-width="0.8"/>
<rect x="485.99" y="326.0" width="2.7" height="4.3" fill="#ea0a7c" stroke="#8a0a4c" stroke-width="0.35"/>
<line x1="490.90" y1="330.6" x2="490.90" y2="337.7" stroke="#5a5a5a" stroke-width="0.8"/>
<rect x="489.55" y="330.6" width="2.7" height="4.0" fill="#ea0a7c" stroke="#8a0a4c" stroke-width="0.35"/>
<rect x="493.10" y="334.3" width="2.7" height="19.0" fill="#ea0a7c" stroke="#8a0a4c" stroke-width="0.35"/>
<line x1="498.00" y1="353.3" x2="498.00" y2="366.0" stroke="#5a5a5a" stroke-width="0.8"/>
<rect x="496.65" y="353.3" width="2.7" height="11.4" fill="#ea0a7c" stroke="#8a0a4c" stroke-width="0.35"/>
<line x1="448.4" y1="207.2" x2="508.3" y2="126.3" stroke="#4a4a4e" stroke-width="1.5"/>
<text x="484.5" y="116.7" font-size="11.4" fill="#fb2a2a" stroke="#fb2a2a" stroke-width="0.15" textLength="180" lengthAdjust="spacingAndGlyphs">RBA kept its interest rates at 4.10%</text>
<text x="5" y="22.7" font-size="15.2" fill="#3a3a3a" stroke="#3a3a3a" stroke-width="0.4" textLength="102" lengthAdjust="spacingAndGlyphs">AUD Charts: 15-min</text>
<text class="ax" x="731" y="21.09" textLength="15" lengthAdjust="spacingAndGlyphs">2.20%</text>
<text class="ax" x="731" y="48.35" textLength="15" lengthAdjust="spacingAndGlyphs">2.00%</text>
<text class="ax" x="731" y="75.61" textLength="15" lengthAdjust="spacingAndGlyphs">1.80%</text>
<text class="ax" x="731" y="102.87" textLength="15" lengthAdjust="spacingAndGlyphs">1.60%</text>
<text class="ax" x="731" y="130.13" textLength="15" lengthAdjust="spacingAndGlyphs">1.40%</text>
<text class="ax" x="731" y="157.39" textLength="15" lengthAdjust="spacingAndGlyphs">1.20%</text>
<text class="ax" x="731" y="184.65" textLength="15" lengthAdjust="spacingAndGlyphs">1.00%</text>
<text class="ax" x="731" y="211.91" textLength="15" lengthAdjust="spacingAndGlyphs">0.80%</text>
<text class="ax" x="731" y="239.17" textLength="15" lengthAdjust="spacingAndGlyphs">0.60%</text>
<text class="ax" x="731" y="266.43" textLength="15" lengthAdjust="spacingAndGlyphs">0.40%</text>
<text class="ax" x="731" y="293.69" textLength="15" lengthAdjust="spacingAndGlyphs">0.20%</text>
<text class="ax" x="731" y="320.95" textLength="15" lengthAdjust="spacingAndGlyphs">0.00%</text>
<text class="ax" x="728.3" y="348.21" textLength="17.7" lengthAdjust="spacingAndGlyphs">−0.20%</text>
<text class="ax" x="728.3" y="375.47" textLength="17.7" lengthAdjust="spacingAndGlyphs">−0.40%</text>
<text class="ax" x="-1.4" y="410" textLength="5.8" lengthAdjust="spacingAndGlyphs" font-weight="normal">25</text>
<text class="ax" x="33.4" y="410" textLength="5.8" lengthAdjust="spacingAndGlyphs" font-weight="normal">31</text>
<text class="ax" x="71.6" y="410" textLength="14.8" lengthAdjust="spacingAndGlyphs" font-weight="normal">03:00</text>
<text class="ax" x="114.2" y="410" textLength="14.8" lengthAdjust="spacingAndGlyphs" font-weight="normal">06:00</text>
<text class="ax" x="156.8" y="410" textLength="14.8" lengthAdjust="spacingAndGlyphs" font-weight="normal">09:00</text>
<text class="ax" x="199.4" y="410" textLength="14.8" lengthAdjust="spacingAndGlyphs" font-weight="normal">12:00</text>
<text class="ax" x="242.0" y="410" textLength="14.8" lengthAdjust="spacingAndGlyphs" font-weight="normal">15:00</text>
<text class="ax" x="284.6" y="410" textLength="14.8" lengthAdjust="spacingAndGlyphs" font-weight="normal">18:00</text>
<text class="ax" x="327.2" y="410" textLength="14.8" lengthAdjust="spacingAndGlyphs" font-weight="normal">21:00</text>
<text class="ax" x="372.0" y="410" textLength="10.5" lengthAdjust="spacingAndGlyphs" font-weight="bold">Aug</text>
<text class="ax" x="412.5" y="410" textLength="14.8" lengthAdjust="spacingAndGlyphs" font-weight="normal">03:00</text>
<text class="ax" x="455.1" y="410" textLength="14.8" lengthAdjust="spacingAndGlyphs" font-weight="normal">06:00</text>
<text class="ax" x="497.7" y="410" textLength="14.8" lengthAdjust="spacingAndGlyphs" font-weight="normal">09:00</text>
<text class="ax" x="540.3" y="410" textLength="14.8" lengthAdjust="spacingAndGlyphs" font-weight="normal">12:00</text>
<text class="ax" x="582.9" y="410" textLength="14.8" lengthAdjust="spacingAndGlyphs" font-weight="normal">15:00</text>
<text class="ax" x="625.5" y="410" textLength="14.8" lengthAdjust="spacingAndGlyphs" font-weight="normal">18:00</text>
<text class="ax" x="668.2" y="410" textLength="14.8" lengthAdjust="spacingAndGlyphs" font-weight="normal">21:00</text>
<text class="ax" x="716.5" y="410" textLength="3.4" lengthAdjust="spacingAndGlyphs" font-weight="normal">2</text>
<rect x="701" y="195" width="25.6" height="11.2" rx="0.8" fill="#f57c0a"/>
<text class="lb" x="703" y="203.7" fill="#fff" stroke="#fff" textLength="21.4" lengthAdjust="spacingAndGlyphs">AUDJPY</text>
<rect x="701" y="276.8" width="25.6" height="11.2" rx="0.8" fill="#6a3cbd"/>
<text class="lb" x="703" y="285.5" fill="#fff" stroke="#fff" textLength="21.4" lengthAdjust="spacingAndGlyphs">AUDCHF</text>
<rect x="701" y="298.3" width="25.6" height="11.2" rx="0.8" fill="#27c5d9"/>
<text class="lb" x="703" y="307.0" fill="#1a3a40" stroke="#1a3a40" textLength="21.4" lengthAdjust="spacingAndGlyphs">AUDEUR</text>
<rect x="701" y="314" width="25.6" height="11.0" rx="0.8" fill="#fcb92b"/>
<text class="lb" x="703" y="322.6" fill="#3a3010" stroke="#3a3010" textLength="21.4" lengthAdjust="spacingAndGlyphs">AUDGBP</text>
<rect x="701" y="332" width="25.6" height="11.2" rx="0.8" fill="#ab0cf7"/>
<text class="lb" x="703" y="340.7" fill="#fff" stroke="#fff" textLength="21.4" lengthAdjust="spacingAndGlyphs">AUDCAD</text>
<rect x="701" y="349" width="25.6" height="10.3" rx="0.8" fill="#4caf50"/>
<text class="lb" x="703" y="357.2" fill="#fff" stroke="#fff" textLength="21.4" lengthAdjust="spacingAndGlyphs">AUDNZD</text>
<rect x="701" y="359.5" width="25.6" height="10.8" rx="0.8" fill="#f5057f"/>
<text class="lb" x="703" y="368.0" fill="#fff" stroke="#fff" textLength="21.4" lengthAdjust="spacingAndGlyphs">AUDUSD</text>
<path d="M-0.5 422.2 h1.8 v4.6 h-1.3 v-3.6 h-0.5 z M1.9 422.2 h1.6 l-1.3 4.6 h-1.2 z" fill="#2a2a2a"/>
<text x="4.6" y="427" font-size="7.4" fill="#3a3a3a" stroke="#3a3a3a" stroke-width="0.15" textLength="28.8" lengthAdjust="spacingAndGlyphs">TradingView</text>
</svg></body></html>
